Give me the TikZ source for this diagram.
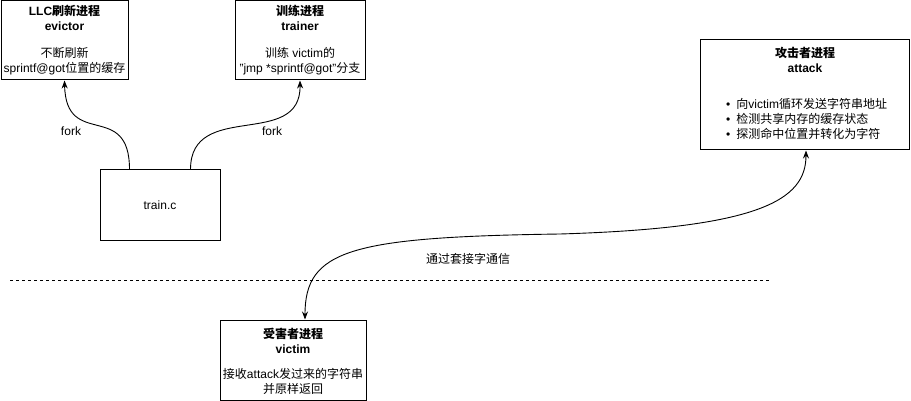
\documentclass[tikz,border=0pt]{standalone}
\usepackage{fontspec}
\setmainfont{Liberation Sans}
\newfontfamily\cjk{Noto Sans CJK SC}
\newcommand{\zh}[1]{{\cjk #1}}
\usetikzlibrary{arrows.meta}
\begin{document}
\begin{tikzpicture}[x=1pt,y=-1pt,
  box/.style={draw=black,line width=1pt,fill=white,inner sep=0pt},
  txt/.style={font=\fontsize{12}{15}\selectfont,align=center,inner sep=0pt,text=black},
  conn/.style={line width=0.9pt,black},
  tip/.style={-{Stealth[length=8pt,width=6pt]}}]
\useasboundingbox[fill=white] (0,0) rectangle (911,401);
% boxes
\node[box,minimum width=127pt,minimum height=79pt] (evictor) at (64.5,40.5) {};
\node[box,minimum width=130pt,minimum height=79pt] (trainer) at (300,40.5) {};
\node[box,minimum width=120pt,minimum height=70pt] (trainc) at (160,205) {};
\node[box,minimum width=209pt,minimum height=110pt] (attack) at (804.5,95) {};
\node[box,minimum width=146pt,minimum height=80pt] (victim) at (293,360) {};
% texts
\node[txt] (evictortxt) at (64.5,40.5) {\bfseries LLC\zh{刷新进程}\\\bfseries evictor\\[12pt]\zh{不断刷新}\\sprintf@got\zh{位置的缓存}};
\node[txt] (trainertxt) at (300,40.5) {\bfseries\zh{训练进程}\\\bfseries trainer\\[12pt]\zh{训练} victim\zh{的}\\"jmp *sprintf@got"\zh{分支}};
\node[txt] (trainctxt) at (trainc) {train.c};
\node[txt] (attacktitle) at (805,59.5) {\bfseries\zh{攻击者进程}\\\bfseries attack};
\node[txt,align=left,anchor=west] (attacklist) at (726,119) {•\hspace{6pt}\zh{向}victim\zh{循环发送字符串地址}\\•\hspace{6pt}\zh{检测共享内存的缓存状态}\\•\hspace{6pt}\zh{探测命中位置并转化为字符}};
\node[txt] (victimtxt) at (293,361) {\bfseries\zh{受害者进程}\\\bfseries victim\\[10pt]\zh{接收}attack\zh{发过来的字符串}\\\zh{并原样返回}};
% dashed separator
\coordinate (dashL) at (10,280);
\coordinate (dashR) at (770,280);
\draw[line width=0.9pt,dash pattern=on 3pt off 3pt] (dashL) -- (dashR);
% connectors
\draw[conn,tip] (trainc.north west) ++(30,0) coordinate (f1s) .. controls +(0,-70) and (66,150) .. (evictor.south);
\draw[conn,tip] (trainc.north east) ++(-30,0) coordinate (f2s) .. controls +(0,-70) and (301,150) .. (trainer.south);
\node[txt] (fork1) at (71,131) {fork};
\node[txt] (fork2) at (272,131) {fork};
\coordinate (vtop) at ([xshift=12pt]victim.north);
\coordinate (atop) at ([xshift=1.5pt]attack.south);
\draw[conn,{Stealth[length=8pt,width=6pt]}-{Stealth[length=8pt,width=6pt]}] (vtop) .. controls (305,250) and (350,237) .. (560,234) .. controls (760,228) and (806,200) .. (atop);
\node[txt] (sock) at (468,259) {\zh{通过套接字通信}};
\end{tikzpicture}
\end{document}
